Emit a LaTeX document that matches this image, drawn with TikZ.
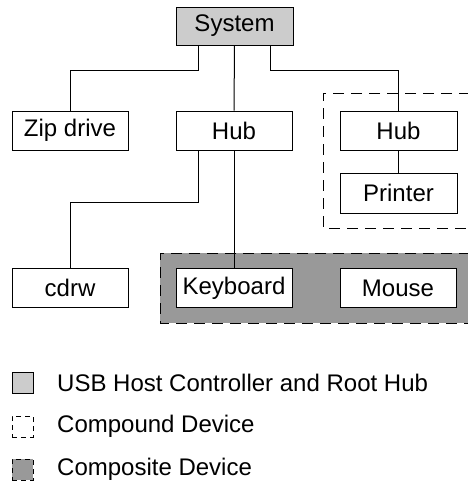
\documentclass[tikz,border=0pt]{standalone}
\usepackage{fontspec}
\setmainfont{Liberation Sans}
\definecolor{hostgray}{HTML}{CCCCCC}
\definecolor{compgray}{HTML}{999999}
\begin{document}
\begin{tikzpicture}[x=1pt,y=-1pt,
  every node/.style={font=\fontsize{24}{28}\selectfont},
  box/.style={draw, line width=1pt, fill=white, minimum width=116pt, minimum height=39pt, inner sep=0pt},
  wire/.style={line width=1pt},
  dashbox/.style={line width=1pt, dash pattern=on 11pt off 7pt},
  legtext/.style={anchor=west, inner sep=0pt}]
\useasboundingbox (0,0) rectangle (467,485);
% group boxes
\draw[dashbox] (470,93) -- (323,93) -- (323,228) -- (470,228);
\fill[compgray] (160,253) rectangle (470,323);
\draw[dashbox] (470,253) -- (160,253) -- (160,323) -- (470,323);
% nodes
\node[box, fill=hostgray, minimum width=117pt, minimum height=38pt] (sys) at (234.5,26) {System};
\node[box] (zip) at (70,130.5) {Zip drive};
\node[box] (hub) at (234,130.5) {Hub};
\node[box, minimum width=117pt] (hub2) at (398.5,130.5) {Hub};
\node[box, minimum width=117pt, minimum height=40pt] (prn) at (398.5,193) {Printer};
\node[box] (cdrw) at (70,288) {cdrw};
\node[box] (kbd) at (234,288) {Keyboard};
\node[box] (mouse) at (398,288) {Mouse};
% connectors
\coordinate (s1) at (198,45);
\coordinate (s3) at (270,45);
\coordinate (h1) at (198,150);
\draw[wire] (s1) |- (70,70) -- (zip.north);
\draw[wire] (sys.south) -- (hub.north);
\draw[wire] (s3) |- (398.5,70) -- (hub2.north);
\draw[wire] (hub2.south) -- (prn.north);
\draw[wire] (h1) |- (70,202) -- (cdrw.north);
\draw[wire] (hub.south) -- (kbd.north);
% legend
\node[draw, line width=1pt, fill=hostgray, minimum size=21pt, inner sep=0pt] (l1) at (22.5,382.5) {};
\node[dashbox, draw, dash pattern=on 5pt off 4pt, minimum size=21pt, inner sep=0pt] (l2) at (22.5,426.5) {};
\node[dashbox, draw, fill=compgray, dash pattern=on 5pt off 4pt, minimum size=21pt, inner sep=0pt] (l3) at (22.5,469.5) {};
\node[legtext] (t1) at (57,382.5) {USB Host Controller and Root Hub};
\node[legtext] (t2) at (57,426.5) {Compound Device};
\node[legtext] (t3) at (57,469.5) {Composite Device};
\end{tikzpicture}
\end{document}
